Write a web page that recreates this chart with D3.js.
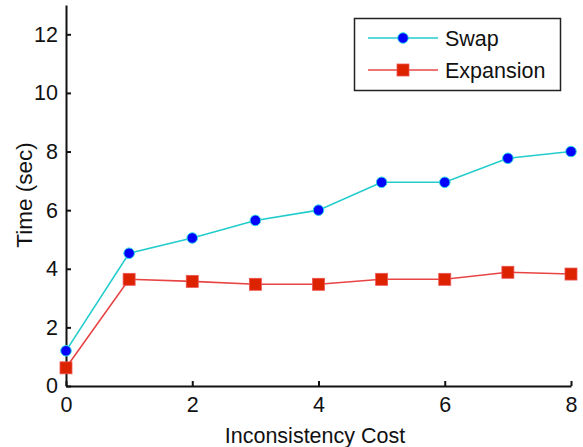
<!DOCTYPE html>
<html><head><meta charset="utf-8">
<script src="https://cdn.jsdelivr.net/npm/d3@7"></script>
<style>body{margin:0;background:#fff}svg{display:block}text{font-family:"Liberation Sans",Arial,sans-serif;fill:#111}</style>
</head><body><svg id="c" width="583" height="447"></svg>
<script>
const costs = [0,1,2,3,4,5,6,7,8];
const swap = [1.2,4.53,5.05,5.65,6.0,6.95,6.95,7.77,8.0];
const expansion = [0.62,3.64,3.57,3.47,3.47,3.64,3.64,3.88,3.82];
const xTicks = [0,2,4,6,8];
const yTicks = [0,2,4,6,8,10,12];
const seriesNames = ["Swap","Expansion"];

const svg = d3.select("#c");
const x = d3.scaleLinear().domain([0,8]).range([66,571]);
const y = d3.scaleLinear().domain([0,13]).range([386,5]);
const fs = 21.5;

const xa = d3.axisBottom(x).tickValues(xTicks).tickSize(-5).tickPadding(11).tickSizeOuter(0);
const ya = d3.axisLeft(y).tickValues(yTicks).tickSize(-5).tickPadding(8).tickSizeOuter(0);
const gx = svg.append("g").attr("transform","translate(0,386)").call(xa);
const gy = svg.append("g").attr("transform","translate(66,0)").call(ya);
[gx,gy].forEach(g=>{
  g.select(".domain").attr("stroke","#111").attr("stroke-width",2);
  g.selectAll(".tick line").attr("stroke","#111").attr("stroke-width",2);
  g.selectAll(".tick text").attr("font-size",fs).attr("font-family","Liberation Sans, Arial, sans-serif").attr("fill","#111");
});
gx.selectAll(".tick text").attr("dy","0.71em");

svg.append("text").attr("x",315).attr("y",443).attr("text-anchor","middle").attr("font-size",fs).text("Inconsistency Cost");
svg.append("text").attr("transform","translate(32,195) rotate(-90)").attr("text-anchor","middle").attr("font-size",fs+1).text("Time (sec)");

const cyan = "#22cccc", red = "#e84444";
const line = d3.line().x((d,i)=>x(costs[i])).y(d=>y(d));
svg.append("path").datum(swap).attr("d",line).attr("fill","none").attr("stroke",cyan).attr("stroke-width",1.6);
svg.append("path").datum(expansion).attr("d",line).attr("fill","none").attr("stroke",red).attr("stroke-width",1.6);
svg.selectAll(".sw").data(swap).enter().append("circle")
  .attr("cx",(d,i)=>x(costs[i])).attr("cy",d=>y(d)).attr("r",5.3)
  .attr("fill","#0000ff").attr("stroke","#33dddd").attr("stroke-width",1);
svg.selectAll(".ex").data(expansion).enter().append("rect")
  .attr("x",(d,i)=>x(costs[i])-6).attr("y",d=>y(d)-6).attr("width",12).attr("height",12)
  .attr("fill","#dd2200").attr("stroke","#ee5555").attr("stroke-width",0.8);

const lg = svg.append("g");
lg.append("rect").attr("x",354.5).attr("y",18.5).attr("width",206).attr("height",72).attr("fill","#fff").attr("stroke","#222").attr("stroke-width",1.5);
const rows = [38,70];
lg.append("line").attr("x1",368).attr("x2",438).attr("y1",rows[0]).attr("y2",rows[0]).attr("stroke",cyan).attr("stroke-width",1.6);
lg.append("circle").attr("cx",403).attr("cy",rows[0]).attr("r",5.3).attr("fill","#0000ff").attr("stroke","#33dddd").attr("stroke-width",1);
lg.append("line").attr("x1",368).attr("x2",438).attr("y1",rows[1]).attr("y2",rows[1]).attr("stroke",red).attr("stroke-width",1.6);
lg.append("rect").attr("x",397).attr("y",rows[1]-6).attr("width",12).attr("height",12).attr("fill","#dd2200").attr("stroke","#ee5555").attr("stroke-width",0.8);
seriesNames.forEach((n,i)=>lg.append("text").attr("x",445).attr("y",rows[i]).attr("dy","0.36em").attr("font-size",fs).text(n));
</script></body></html>
